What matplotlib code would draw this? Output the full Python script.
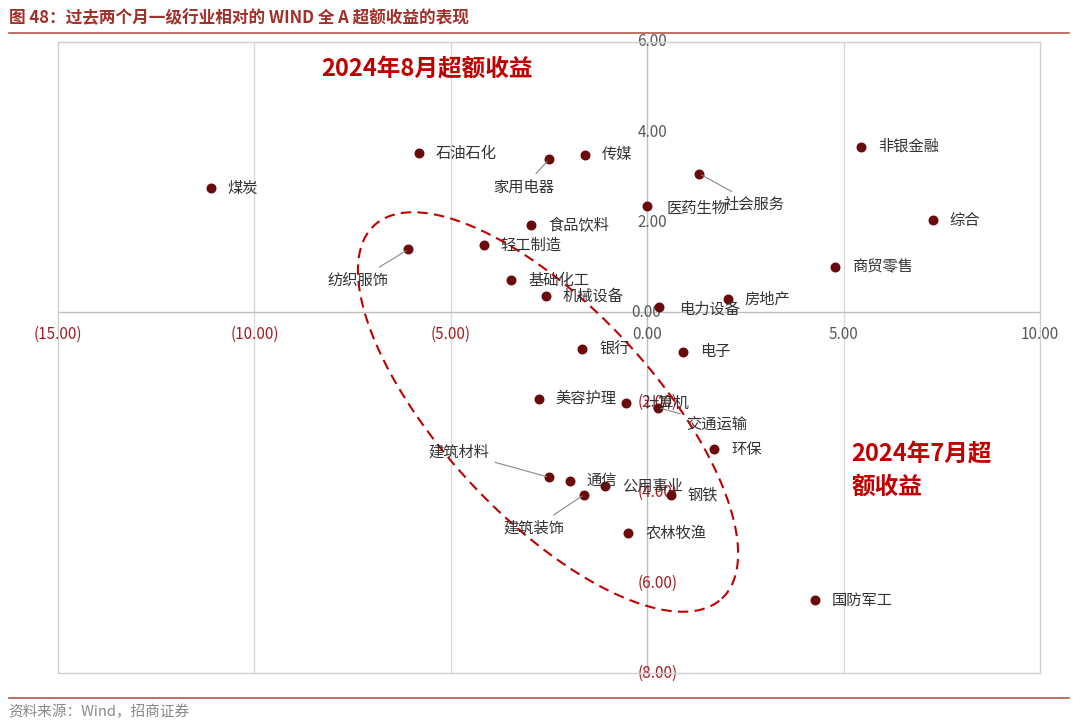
import numpy as np
import matplotlib
matplotlib.use("Agg")
import matplotlib.pyplot as plt

plt.rcParams["font.family"] = ["Noto Sans CJK SC", "DejaVu Sans"]

industries = ["煤炭","石油石化","家用电器","传媒","非银金融","社会服务","医药生物","综合","食品饮料",
              "轻工制造","纺织服饰","商贸零售","基础化工","机械设备","房地产","电力设备","银行","电子",
              "美容护理","计算机","交通运输","环保","建筑材料","通信","公用事业","建筑装饰","钢铁",
              "农林牧渔","国防军工"]
jul_excess = [-11.1,-5.8,-2.5,-1.58,5.45,1.32,0.0,7.28,-2.95,-4.15,-6.08,4.79,-3.46,-2.57,2.06,0.31,
              -1.65,0.92,-2.75,-0.53,0.28,1.71,-2.49,-1.96,-1.07,-1.6,0.61,-0.48,4.28]
aug_excess = [2.75,3.53,3.4,3.5,3.68,3.08,2.37,2.04,1.93,1.49,1.40,1.0,0.71,0.36,0.29,0.13,
              -0.82,-0.87,-1.91,-2.02,-2.11,-3.04,-3.66,-3.73,-3.86,-4.04,-4.06,-4.9,-6.39]
x_ticks = [-15,-10,-5,0,5,10]
y_ticks = [-8,-6,-4,-2,0,2,4,6]

offsets = {"家用电器":(-18,-20,True),"社会服务":(40,-22,True),"纺织服饰":(-36,-22,True),
           "交通运输":(42,-12,True),"建筑材料":(-65,18,True),"建筑装饰":(-36,-24,True),
           "医药生物":(14,-2,False),"电力设备":(14,-2,False)}

fig = plt.figure(figsize=(10.8,7.24), dpi=100)
red = "#a31f24"
fig.text(0.008, 0.975, "图 48：过去两个月一级行业相对的 WIND 全 A 超额收益的表现", color="#a0302a",
         fontsize=12, fontweight="bold", va="center")
fig.add_artist(plt.Line2D([0.008,0.99],[0.955,0.955], color="#b5584a", lw=1.2))
fig.add_artist(plt.Line2D([0.008,0.99],[0.036,0.036], color="#b5584a", lw=1.2))
fig.text(0.008, 0.017, "资料来源：Wind，招商证券", color="#888888", fontsize=10.5, va="center")

ax = fig.add_axes([58/1080, 51/724, 982/1080, 631/724])
ax.set_xlim(-15,10); ax.set_ylim(-8,6)
for s in ["top","right","left","bottom"]:
    ax.spines[s].set_color("#d0d0d0"); ax.spines[s].set_linewidth(1)
for xv in x_ticks[1:-1]:
    if xv != 0:
        ax.axvline(xv, color="#d9d9d9", lw=1, zorder=0)
ax.axhline(0, color="#bfbfbf", lw=1, zorder=1)
ax.axvline(0, color="#bfbfbf", lw=1, zorder=1)
ax.set_xticks([]); ax.set_yticks([])
for xv in x_ticks:
    ax.text(xv, -0.3, f"({abs(xv):.2f})" if xv<0 else f"{xv:.2f}", color=red if xv<0 else "#595959",
            ha="center", va="top", fontsize=11)
for yv in y_ticks:
    ax.text(-0.25 if yv!=0 else -0.4, yv, f"({abs(yv):.2f})" if yv<0 else f"{yv:.2f}",
            color=red if yv<0 else "#595959", ha="left", va="center", fontsize=11, zorder=2)

ax.scatter(jul_excess, aug_excess, s=38, color="#6b0a0a", zorder=4)
for name, x, y in zip(industries, jul_excess, aug_excess):
    if name in offsets:
        dx, dy, line = offsets[name]
        ax.annotate(name, (x,y), xytext=(dx,dy), textcoords="offset points", fontsize=11,
                    color="#333333", va="center", ha="center" if dx < 0 or name in ("社会服务","交通运输") else "left",
                    arrowprops=dict(arrowstyle="-", color="#888888", lw=0.8) if line else None, zorder=5)
    else:
        ax.annotate(name, (x,y), xytext=(12,0), textcoords="offset points", fontsize=11,
                    color="#333333", va="center", zorder=5)

# dashed ellipse (drawn in pixel space, converted to data)
cxp, cyp, a, b, ang = 548, 412, 255, 105, np.deg2rad(-47)
t = np.linspace(0, 2*np.pi, 300)
px = cxp + a*np.cos(t)*np.cos(ang) - b*np.sin(t)*np.sin(ang)
py = cyp - (a*np.cos(t)*np.sin(ang) + b*np.sin(t)*np.cos(ang))
ex = -15 + (px-58)/982*25
ey = 6 - (py-42)/631*14
ax.plot(ex, ey, ls=(0,(5,3)), color="#c00000", lw=1.5, zorder=3)

ax.text(-8.3, 5.4, "2024年8月超额收益", color="#c00000", fontsize=17, fontweight="bold", va="center")
ax.text(5.2, -3.5, "2024年7月超\n额收益", color="#c00000", fontsize=17, fontweight="bold",
        va="center", linespacing=1.5)
fig.savefig("out.png", dpi=100)
